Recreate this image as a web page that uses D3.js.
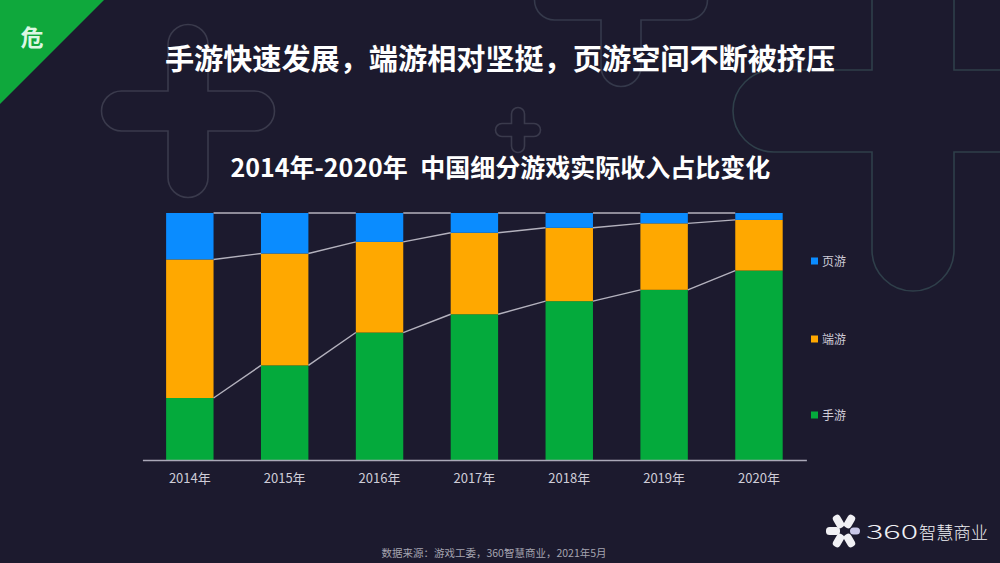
<!DOCTYPE html>
<html>
<head>
<meta charset="utf-8">
<script src="https://cdn.jsdelivr.net/npm/d3@7"></script>
<style>
  html, body { margin: 0; padding: 0; background: #1c1a2e; overflow: hidden; }
  text { font-family: "Noto Sans CJK SC", "Noto Sans", sans-serif; }
</style>
</head>
<body>
<svg id="chart" width="1000" height="563"></svg>
<script>
// Data (share of revenue, %)
var years = ['2014年', '2015年', '2016年', '2017年', '2018年', '2019年', '2020年'];
var mobile = [25.1, 38.3, 51.6, 59.0, 64.3, 68.9, 76.7];
var client = [56.1, 45.3, 36.7, 33.0, 29.7, 26.9, 20.5];
var web = [18.8, 16.4, 11.7, 8.0, 6.0, 4.2, 2.8];
var seriesNames = ['手游', '端游', '页游'];
var seriesColors = ['#04aa3c', '#ffa800', '#0a8cff'];
var legendY = [415, 339, 261];

var svg = d3.select('#chart');

svg.append('rect').attr('width', 1000).attr('height', 563).attr('fill', '#1c1a2e');

// Background plus shapes
function plusPath(cx, cy, len, hw) {
    var p = d3.path();
    var end = len - hw;
    p.moveTo(cx - hw, cy - end);
    p.arc(cx, cy - end, hw, Math.PI, 0);
    p.lineTo(cx + hw, cy - hw);
    p.lineTo(cx + end, cy - hw);
    p.arc(cx + end, cy, hw, -Math.PI / 2, Math.PI / 2);
    p.lineTo(cx + hw, cy + hw);
    p.lineTo(cx + hw, cy + end);
    p.arc(cx, cy + end, hw, 0, Math.PI);
    p.lineTo(cx - hw, cy + hw);
    p.lineTo(cx - end, cy + hw);
    p.arc(cx - end, cy, hw, Math.PI / 2, Math.PI * 1.5);
    p.lineTo(cx - hw, cy - hw);
    p.closePath();
    return p.toString();
}

var plusShapes = [
    { cx: 188, cy: 111, len: 86.5, hw: 20, color: '#3a3a4c' },
    { cx: 621, cy: 0, len: 86.5, hw: 20, color: '#35394b' },
    { cx: 518, cy: 130, len: 22.5, hw: 6.5, color: '#3a3a4c' },
    { cx: 913, cy: 111, len: 180, hw: 41, color: '#2f3f4a' }
];
svg.append('g').selectAll('path')
    .data(plusShapes)
    .enter().append('path')
    .attr('d', function (d) { return plusPath(d.cx, d.cy, d.len, d.hw); })
    .attr('fill', 'none')
    .attr('stroke', function (d) { return d.color; })
    .attr('stroke-width', 1.6);

// Green corner badge
svg.append('path').attr('d', 'M0,0H104L0,104Z').attr('fill', '#0fa83c');
svg.append('text').attr('x', 32).attr('y', 46)
    .attr('text-anchor', 'middle').attr('font-size', 23).attr('font-weight', 700)
    .attr('fill', '#dcf7e3').text('危');

// Titles
svg.append('text').attr('x', 500).attr('y', 70)
    .attr('text-anchor', 'middle').attr('font-size', 29.15).attr('font-weight', 700)
    .attr('fill', '#fff').text('手游快速发展，端游相对坚挺，页游空间不断被挤压');
svg.append('text').attr('x', 500.5).attr('y', 177)
    .attr('text-anchor', 'middle').attr('font-size', 25).attr('font-weight', 700)
    .attr('fill', '#fff').text('2014年-2020年\u2002中国细分游戏实际收入占比变化');

// Scales
var x = d3.scaleBand().domain(years).range([142.4, 806.4])
    .paddingInner(0.5).paddingOuter(0.25);
var y = d3.scaleLinear().domain([0, 100]).range([460, 213]);

var rows = years.map(function (year, i) {
    return { year: year, '手游': mobile[i], '端游': client[i], '页游': web[i] };
});
var stacked = d3.stack().keys(seriesNames)(rows);

// Stacked bars
var groups = svg.append('g').selectAll('g')
    .data(stacked)
    .enter().append('g')
    .attr('fill', function (d, i) { return seriesColors[i]; });

groups.selectAll('rect')
    .data(function (d) { return d; })
    .enter().append('rect')
    .attr('x', function (d) { return x(d.data.year); })
    .attr('y', function (d) { return y(d[1]); })
    .attr('width', x.bandwidth())
    .attr('height', function (d) { return y(d[0]) - y(d[1]); });

// Connector lines between the bars
var links = [];
stacked.forEach(function (s) {
    for (var i = 0; i < s.length - 1; i++) {
        links.push({ a: s[i], b: s[i + 1] });
    }
});
svg.append('g').selectAll('line')
    .data(links)
    .enter().append('line')
    .attr('x1', function (d) { return x(d.a.data.year) + x.bandwidth(); })
    .attr('y1', function (d) { return y(d.a[1]); })
    .attr('x2', function (d) { return x(d.b.data.year); })
    .attr('y2', function (d) { return y(d.b[1]); })
    .attr('stroke', '#b4b2be')
    .attr('stroke-width', 1.4);

// X axis
var axis = svg.append('g')
    .attr('transform', 'translate(0,460)')
    .call(d3.axisBottom(x).tickSize(0).tickPadding(14));
axis.select('.domain').attr('stroke', '#aaa8b8').attr('stroke-width', 1.5);
axis.selectAll('text')
    .attr('font-size', 13)
    .style('font-family', '"Noto Sans CJK SC", sans-serif')
    .attr('fill', '#cfcdd8');

// Legend
var legend = svg.append('g').selectAll('g')
    .data(seriesNames)
    .enter().append('g')
    .attr('transform', function (d, i) { return 'translate(811,' + legendY[i] + ')'; });
legend.append('rect')
    .attr('y', -3.5).attr('width', 7).attr('height', 7)
    .attr('fill', function (d, i) { return seriesColors[i]; });
legend.append('text')
    .attr('x', 11).attr('y', 4.5)
    .attr('font-size', 12).attr('fill', '#cfcdd8')
    .text(function (d) { return d; });

// Source note
svg.append('text').attr('x', 494).attr('y', 557)
    .attr('text-anchor', 'middle').attr('font-size', 10.5)
    .attr('fill', '#a5a4b0').text('数据来源：游戏工委，360智慧商业，2021年5月');

// Logo
var petals = [0, 60, 120, 180, 240, 300];
var logo = svg.append('g').attr('transform', 'translate(844,531)');
logo.selectAll('rect')
    .data(petals)
    .enter().append('rect')
    .attr('x', function (d) { return d === 0 ? 6 : 4; })
    .attr('y', function (d) { return d === 0 ? -3.5 : -4; })
    .attr('width', function (d) { return d === 0 ? 10 : 14; })
    .attr('height', function (d) { return d === 0 ? 7 : 8; })
    .attr('rx', 3.5)
    .attr('fill', function (d) { return d === 0 ? '#c9c8e8' : '#f0f0f4'; })
    .attr('transform', function (d) { return 'rotate(' + d + ')'; });
svg.append('text').attr('x', 866).attr('y', 539)
    .attr('font-size', 19).attr('font-weight', 300).attr('fill', '#f0f0f4')
    .attr('textLength', 52).attr('lengthAdjust', 'spacingAndGlyphs').text('360');
svg.append('text').attr('x', 919).attr('y', 539)
    .attr('font-size', 17).attr('font-weight', 300).attr('fill', '#f0f0f4')
    .attr('textLength', 69).attr('lengthAdjust', 'spacingAndGlyphs').text('智慧商业');
</script>
</body>
</html>
